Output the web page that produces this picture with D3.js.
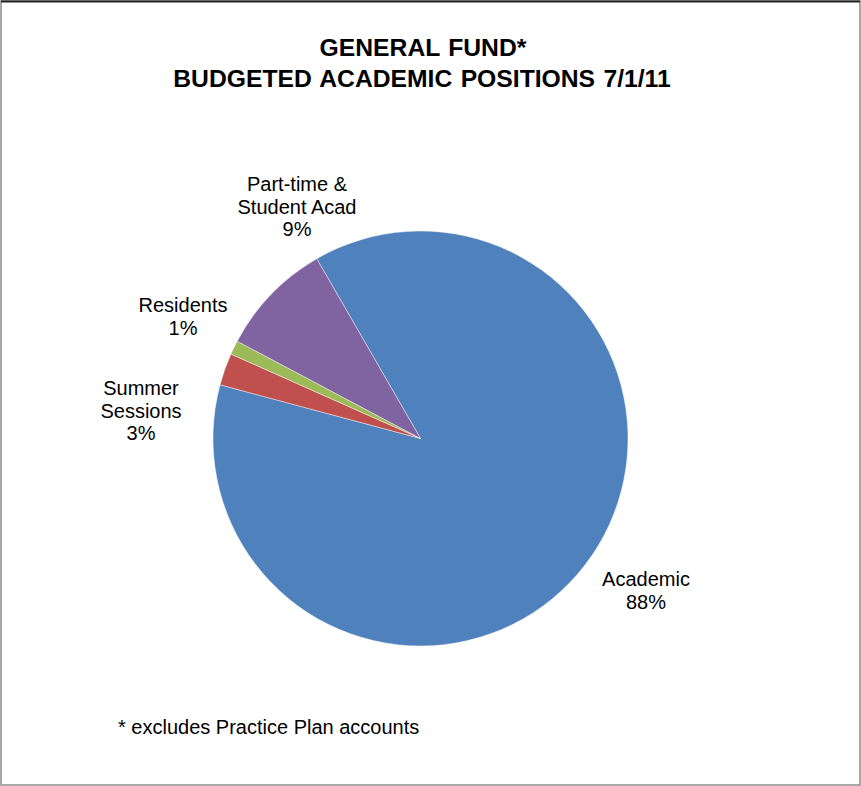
<!DOCTYPE html>
<html>
<head>
<meta charset="utf-8">
<script src="https://cdnjs.cloudflare.com/ajax/libs/d3/7.8.5/d3.min.js"></script>
<style>
  html, body { margin: 0; padding: 0; background: #fff; }
  svg { display: block; }
  text { font-family: "Liberation Sans", Arial, sans-serif; fill: #000; }
</style>
</head>
<body>
<svg id="chart" width="861" height="786"></svg>
<script>
// Budgeted academic positions, share of the general fund (percent)
const categories = ["Academic", "Summer Sessions", "Residents", "Part-time & Student Acad"];
const shares = [87.5, 2.5, 1.1, 8.9];
const sliceColors = ["#4F81BD", "#C0504D", "#9BBB59", "#8064A2"];

// Label text split into lines
const labelLines = {
  "Academic": ["Academic"],
  "Summer Sessions": ["Summer", "Sessions"],
  "Residents": ["Residents"],
  "Part-time & Student Acad": ["Part-time &", "Student Acad"]
};
// Label block anchors (centre x, first baseline y)
const labelAnchor = {
  "Academic": [646, 586],
  "Summer Sessions": [141, 395],
  "Residents": [183, 312],
  "Part-time & Student Acad": [297, 191]
};

const W = 861, H = 786;
const cx = 420.5, cy = 438.5, R = 207.5;
const lineH = 22.5;

const svg = d3.select("#chart");

// Chart frame
svg.append("rect")
  .attr("x", 1).attr("y", 1)
  .attr("width", W - 2).attr("height", H - 2)
  .attr("fill", "#fff")
  .attr("stroke", "#8c8c8c").attr("stroke-width", 1.5);
svg.append("line")
  .attr("x1", 1).attr("x2", W - 1).attr("y1", 1.5).attr("y2", 1.5)
  .attr("stroke", "#222").attr("stroke-width", 2);

// Title
const title = svg.append("text")
  .attr("text-anchor", "middle")
  .style("font-weight", "bold").style("font-size", "24.7px")
  .style("word-spacing", "1.5px");
title.append("tspan").attr("x", 423).attr("y", 56).text("GENERAL FUND*");
title.append("tspan").attr("x", 422).attr("y", 87).text("BUDGETED ACADEMIC POSITIONS 7/1/11");

// Pie
const data = categories.map((c, i) => ({ name: c, value: shares[i], color: sliceColors[i] }));
const total = d3.sum(shares);

const pie = d3.pie()
  .value(d => d.value)
  .sort(null)
  .startAngle(-30 * Math.PI / 180)
  .endAngle(330 * Math.PI / 180);

const arc = d3.arc().innerRadius(0).outerRadius(R);

const g = svg.append("g").attr("transform", `translate(${cx},${cy})`);
g.selectAll("path")
  .data(pie(data))
  .join("path")
  .attr("d", arc)
  .attr("fill", d => d.data.color)
  .attr("stroke", "#ffffff")
  .attr("stroke-opacity", 0.6)
  .attr("stroke-width", 0.7);

// Data labels: category name and rounded percentage
data.forEach(d => {
  const [x, y] = labelAnchor[d.name];
  const lines = labelLines[d.name].concat([Math.round(d.value * 100 / total) + "%"]);
  const t = svg.append("text")
    .attr("text-anchor", "middle")
    .style("font-size", "20px");
  lines.forEach((ln, i) => {
    t.append("tspan").attr("x", x).attr("y", y + i * lineH).text(ln);
  });
});

// Footnote
svg.append("text")
  .attr("x", 118).attr("y", 734)
  .style("font-size", "20px")
  .text("* excludes Practice Plan accounts");
</script>
</body>
</html>
